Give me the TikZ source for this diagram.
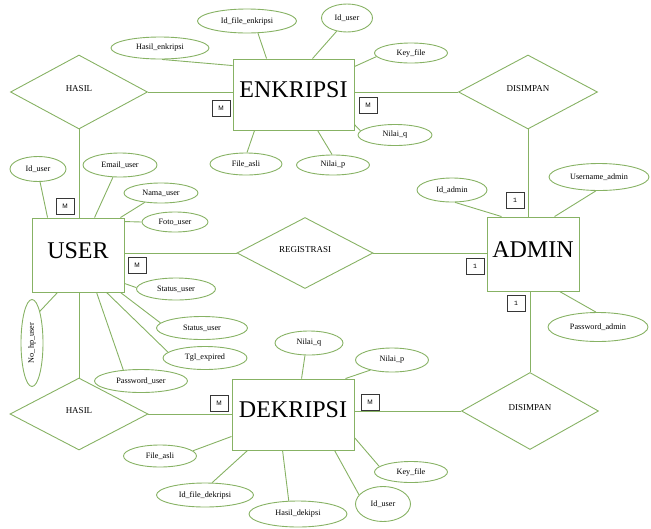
\documentclass[tikz,border=0pt]{standalone}
\usepackage{fontspec}
\setmainfont{Liberation Serif}
\newfontfamily\msans{Liberation Sans}
\newfontfamily\mmono{Liberation Mono}
\usetikzlibrary{shapes.geometric,calc}
\definecolor{gline}{RGB}{135,178,100}
\definecolor{cardc}{RGB}{55,55,55}
\begin{document}
\begin{tikzpicture}[x=1pt,y=-1pt,
  sz/.style 2 args={minimum width=#1pt,minimum height=#2pt},
  ent/.style={rectangle,draw=gline,line width=0.9pt,inner sep=0pt,text depth=9pt,font=\fontsize{24}{24}\selectfont},
  attr/.style={ellipse,draw=gline,line width=0.9pt,inner sep=0pt,font=\fontsize{8.2}{9}\selectfont},
  rel/.style={diamond,draw=gline,line width=0.9pt,inner sep=0pt,text depth=6pt,font=\fontsize{9}{10}\selectfont},
  card/.style={rectangle,draw=cardc,line width=0.6pt,minimum width=18pt,minimum height=16pt,inner sep=0pt,font=\msans\fontsize{6.5}{7}\selectfont},
  cardone/.style={card,font=\mmono\fontsize{6.5}{7}\selectfont},
  conn/.style={draw=gline,line width=0.9pt}]
\useasboundingbox (0,0) rectangle (651,528);

% entities
\node[ent,sz={121}{71}] (enk) at (293.5,94.5) {ENKRIPSI};
\node[ent,sz={92}{74}] (usr) at (78,255) {USER};
\node[ent,sz={92}{74}] (adm) at (533,254) {ADMIN};
\node[ent,sz={122}{71}] (dek) at (293,414.5) {DEKRIPSI};

% relationships
\node[rel,sz={137}{74}] (has1) at (79,92) {HASIL};
\node[rel,sz={139}{74}] (dis1) at (528,92) {DISIMPAN};
\node[rel,sz={136}{71}] (reg) at (305,253) {REGISTRASI};
\node[rel,sz={138}{72}] (has2) at (79,414) {HASIL};
\node[rel,sz={137}{77}] (dis2) at (530,411) {DISIMPAN};

% attributes
\node[attr,sz={98}{22}] (hen) at (160,48) {Hasil\_enkripsi};
\node[attr,sz={99}{24}] (ife) at (247,21) {Id\_file\_enkripsi};
\node[attr,sz={51}{28}] (iu1) at (347,18) {Id\_user};
\node[attr,sz={73}{20}] (kf1) at (411,53) {Key\_file};
\node[attr,sz={74}{21}] (nq1) at (395,135) {Nilai\_q};
\node[attr,sz={73}{20}] (np1) at (333,165) {Nilai\_p};
\node[attr,sz={72}{22}] (fa1) at (246,164) {File\_asli};
\node[attr,sz={56}{25}] (iu2) at (38,169) {Id\_user};
\node[attr,sz={74}{24}] (eu) at (120,165) {Email\_user};
\node[attr,sz={74}{20}] (nu) at (161,193) {Nama\_user};
\node[attr,sz={66}{20}] (fu) at (175,222) {Foto\_user};
\node[attr,sz={79}{22}] (su1) at (176,289) {Status\_user};
\node[attr,sz={91}{23}] (su2) at (202,328) {Status\_user};
\node[attr,sz={84}{23}] (tgl) at (205,358) {Tgl\_expired};
\node[attr,sz={93}{23}] (pu) at (141,381) {Password\_user};
\node[attr,sz={87}{22},rotate=90] (nhp) at (32,343) {No\_hp\_user};
\node[attr,sz={70}{24}] (ida) at (452,190) {Id\_admin};
\node[attr,sz={100}{27}] (una) at (599,177) {Username\_admin};
\node[attr,sz={100}{29}] (pa) at (598,327) {Password\_admin};
\node[attr,sz={68}{24}] (nq2) at (309,343) {Nilai\_q};
\node[attr,sz={73}{24}] (np2) at (392,360) {Nilai\_p};
\node[attr,sz={73}{21}] (kf2) at (411,472) {Key\_file};
\node[attr,sz={55}{35}] (iu3) at (383,504) {Id\_user};
\node[attr,sz={98}{26}] (hd) at (298,514) {Hasil\_dekipsi};
\node[attr,sz={97}{24}] (ifd) at (205,495) {Id\_file\_dekripsi};
\node[attr,sz={73}{22}] (fa2) at (160,456) {File\_asli};

% cardinalities
\node[card] (m1) at (221,108) {M};
\node[card] (m2) at (368,105) {M};
\node[card] (m3) at (65,206) {M};
\node[card] (m4) at (137,265) {M};
\node[card] (m5) at (219,403) {M};
\node[card] (m6) at (370,402) {M};
\node[cardone] (o1) at (515,200) {1};
\node[cardone] (o2) at (475,266) {1};
\node[cardone] (o3) at (516,303) {1};

% relationship connectors
\draw[conn] (has1.east) -- (has1.east -| enk.west);
\draw[conn] (has1.south) -- (has1.south |- usr.north);
\draw[conn] (dis1.west) -- (dis1.west -| enk.east);
\draw[conn] (dis1.south) -- (dis1.south |- adm.north);
\draw[conn] (reg.west) -- (reg.west -| usr.east);
\draw[conn] (reg.east) -- (reg.east -| adm.west);
\draw[conn] (has2.north) -- (has2.north |- usr.south);
\draw[conn] (has2.east) -- (has2.east -| dek.west);
\draw[conn] (dis2.north) -- (dis2.north |- adm.south);
\draw[conn] (dis2.west) -- (dis2.west -| dek.east);

% attribute connectors
\draw[conn] (hen.-80) -- ($(enk.north west)+(0,7)$);
\draw[conn] (ife.-48) -- ($(enk.north west)+(34,0)$);
\draw[conn] (iu1.-128) -- ($(enk.north west)+(80,0)$);
\draw[conn] (kf1.186) -- ($(enk.north east)+(0,8)$);
\draw[conn] (nq1.173) -- ($(enk.north east)+(0,66)$);
\draw[conn] (np1.95) -- ($(enk.south west)+(85,0)$);
\draw[conn] (fa1.85) -- ($(enk.south west)+(22,0)$);
\draw[conn] (iu2.-81) -- ($(usr.north west)+(16,0)$);
\draw[conn] (eu.-120) -- ($(usr.north west)+(63,0)$);
\draw[conn] (nu.-150) -- ($(usr.north east)+(-4,0)$);
\draw[conn] (fu.180) -- ($(usr.north east)+(0,4)$);
\draw[conn] (su1.178) -- ($(usr.south east)+(0,-9)$);
\draw[conn] (su2.173) -- ($(usr.south east)+(-4,0)$);
\draw[conn] (tgl.171) -- ($(usr.south west)+(75,0)$);
\draw[conn] (pu.148) -- ($(usr.south west)+(65,0)$);
\draw[conn] (nhp.-14) -- ($(usr.south west)+(26,0)$);
\draw[conn] (ida.-76) -- ($(adm.north west)+(15,0)$);
\draw[conn] (una.-103) -- ($(adm.north west)+(68,0)$);
\draw[conn] (pa.98) -- ($(adm.south west)+(73,0)$);
\draw[conn] (nq2.-108) -- ($(dek.north west)+(70,0)$);
\draw[conn] (np2.-155) -- ($(dek.north east)+(-9,0)$);
\draw[conn] (kf2.170) -- ($(dek.north east)+(0,59)$);
\draw[conn] (iu3.159) -- ($(dek.south west)+(103,0)$);
\draw[conn] (hd.125) -- ($(dek.south west)+(51,0)$);
\draw[conn] (ifd.60) -- ($(dek.south west)+(16,0)$);
\draw[conn] (fa2.9) -- ($(dek.south west)+(0,-14)$);
\end{tikzpicture}
\end{document}
